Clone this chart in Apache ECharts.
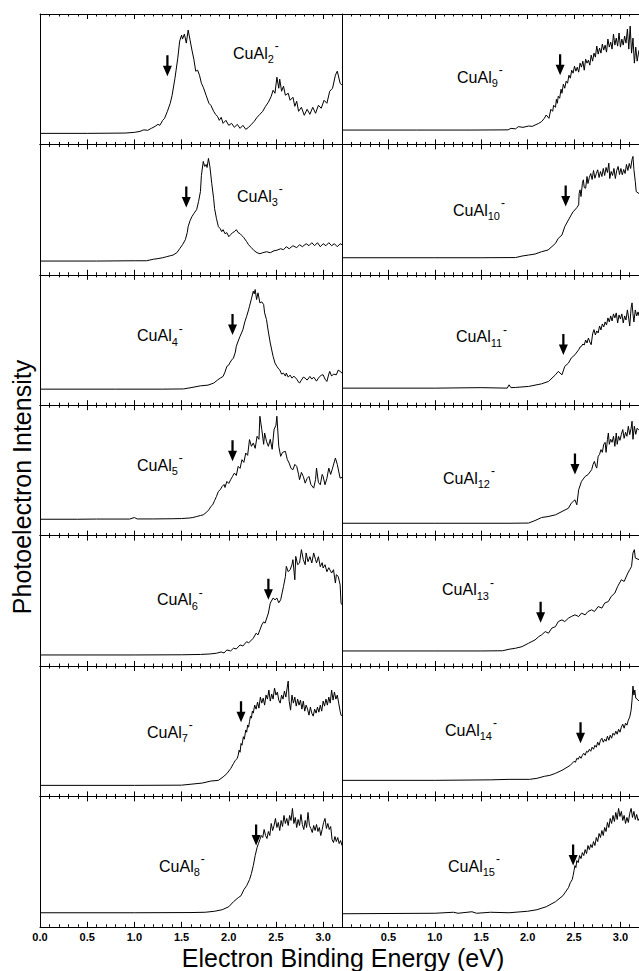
<!DOCTYPE html>
<html><head><meta charset="utf-8">
<script src="https://cdn.jsdelivr.net/npm/echarts@6/dist/echarts.min.js"></script>
<style>html,body{margin:0;padding:0;background:#fff}#c{width:639px;height:971px}</style>
</head><body><div id="c"></div>
<script>
// ---- data: [binding energy (eV), normalized intensity] ----
const cual2 = [[0,0.0],[0.5,0.0],[0.9,0.003],[1.0,0.01],[1.06,0.02],[1.1,0.035],[1.14,0.03],[1.18,0.05],[1.22,0.07],[1.25,0.09],[1.27,0.08],[1.3,0.13],[1.32,0.15],[1.35,0.22],[1.38,0.3],[1.40,0.38],[1.43,0.55],[1.46,0.75],[1.48,0.92],[1.50,0.98],[1.51,0.94],[1.53,0.99],[1.55,0.9],[1.57,1.03],[1.59,0.93],[1.61,0.83],[1.63,0.74],[1.65,0.62],[1.67,0.63],[1.69,0.58],[1.71,0.5],[1.73,0.46],[1.76,0.38],[1.79,0.3],[1.81,0.28],[1.84,0.22],[1.86,0.19],[1.88,0.17],[1.9,0.13],[1.92,0.16],[1.94,0.1],[1.97,0.13],[2.0,0.08],[2.03,0.1],[2.06,0.06],[2.09,0.09],[2.12,0.05],[2.15,0.08],[2.18,0.04],[2.21,0.06],[2.24,0.09],[2.27,0.12],[2.3,0.16],[2.33,0.19],[2.36,0.22],[2.39,0.27],[2.42,0.31],[2.45,0.37],[2.47,0.43],[2.49,0.4],[2.51,0.56],[2.53,0.45],[2.54,0.54],[2.56,0.42],[2.58,0.47],[2.6,0.38],[2.63,0.40],[2.65,0.33],[2.68,0.36],[2.70,0.27],[2.72,0.32],[2.74,0.22],[2.77,0.26],[2.8,0.18],[2.83,0.24],[2.86,0.19],[2.89,0.26],[2.92,0.2],[2.95,0.28],[2.98,0.25],[3.01,0.33],[3.04,0.3],[3.07,0.42],[3.1,0.45],[3.13,0.58],[3.15,0.62],[3.18,0.5],[3.2,0.48]];
const cual3 = [[0,0.027],[0.6,0.027],[1.0,0.03],[1.13,0.03],[1.2,0.045],[1.24,0.05],[1.3,0.06],[1.34,0.07],[1.38,0.08],[1.41,0.087],[1.45,0.11],[1.48,0.15],[1.51,0.19],[1.54,0.24],[1.56,0.31],[1.57,0.37],[1.59,0.43],[1.61,0.47],[1.63,0.5],[1.66,0.54],[1.68,0.62],[1.70,0.72],[1.71,0.88],[1.73,1.02],[1.745,0.97],[1.76,0.99],[1.77,0.96],[1.785,1.05],[1.80,0.97],[1.82,0.8],[1.84,0.65],[1.85,0.55],[1.87,0.45],[1.89,0.37],[1.91,0.35],[1.925,0.32],[1.94,0.34],[1.96,0.3],[1.98,0.31],[2.0,0.27],[2.02,0.29],[2.04,0.31],[2.06,0.32],[2.08,0.34],[2.1,0.31],[2.12,0.3],[2.14,0.28],[2.16,0.26],[2.19,0.22],[2.21,0.19],[2.24,0.16],[2.27,0.13],[2.3,0.11],[2.33,0.1],[2.36,0.11],[2.4,0.12],[2.44,0.11],[2.48,0.13],[2.51,0.135],[2.55,0.15],[2.58,0.14],[2.61,0.17],[2.64,0.15],[2.68,0.18],[2.72,0.16],[2.75,0.19],[2.78,0.17],[2.82,0.2],[2.85,0.18],[2.88,0.21],[2.91,0.18],[2.94,0.21],[2.97,0.17],[3.0,0.2],[3.03,0.18],[3.06,0.21],[3.09,0.18],[3.12,0.2],[3.15,0.17],[3.18,0.2],[3.2,0.19]];
const cual4 = [[0,0.05],[0.8,0.05],[1.3,0.05],[1.52,0.052],[1.6,0.065],[1.7,0.083],[1.78,0.09],[1.84,0.11],[1.88,0.14],[1.91,0.16],[1.94,0.177],[1.96,0.22],[1.98,0.277],[2.0,0.29],[2.01,0.31],[2.03,0.34],[2.05,0.36],[2.07,0.42],[2.08,0.477],[2.1,0.53],[2.12,0.577],[2.14,0.62],[2.15,0.643],[2.17,0.72],[2.19,0.777],[2.21,0.84],[2.22,0.877],[2.24,0.95],[2.26,1.027],[2.27,1.0],[2.28,1.043],[2.295,0.943],[2.31,1.01],[2.33,0.91],[2.35,0.92],[2.37,0.893],[2.38,0.81],[2.40,0.743],[2.42,0.62],[2.44,0.51],[2.46,0.42],[2.47,0.377],[2.49,0.31],[2.51,0.277],[2.53,0.25],[2.54,0.243],[2.56,0.2],[2.58,0.21],[2.6,0.18],[2.61,0.21],[2.63,0.17],[2.65,0.19],[2.67,0.16],[2.69,0.18],[2.72,0.15],[2.74,0.12],[2.75,0.11],[2.77,0.14],[2.79,0.17],[2.81,0.16],[2.83,0.14],[2.86,0.177],[2.88,0.15],[2.9,0.17],[2.93,0.13],[2.95,0.16],[2.98,0.19],[3.0,0.193],[3.02,0.15],[3.04,0.127],[3.06,0.2],[3.07,0.227],[3.09,0.18],[3.11,0.2],[3.14,0.193],[3.16,0.24],[3.18,0.227],[3.2,0.21]];
const cual5 = [[0,0.053],[0.4,0.053],[0.6,0.055],[0.95,0.055],[1.0,0.07],[1.03,0.056],[1.2,0.056],[1.4,0.058],[1.5,0.06],[1.58,0.065],[1.62,0.07],[1.66,0.08],[1.7,0.09],[1.73,0.097],[1.76,0.12],[1.79,0.147],[1.81,0.18],[1.83,0.197],[1.85,0.24],[1.87,0.28],[1.89,0.33],[1.91,0.347],[1.93,0.38],[1.95,0.4],[1.96,0.37],[1.98,0.43],[2.0,0.41],[2.02,0.447],[2.04,0.48],[2.06,0.513],[2.08,0.49],[2.1,0.58],[2.12,0.56],[2.14,0.647],[2.16,0.62],[2.18,0.713],[2.2,0.69],[2.22,0.847],[2.24,0.78],[2.26,0.813],[2.28,0.76],[2.3,0.88],[2.32,0.85],[2.33,1.08],[2.35,0.947],[2.37,0.8],[2.38,0.913],[2.40,0.83],[2.42,0.78],[2.44,0.85],[2.46,0.75],[2.48,0.947],[2.5,0.99],[2.51,1.08],[2.53,0.78],[2.55,0.68],[2.57,0.72],[2.6,0.73],[2.62,0.65],[2.64,0.613],[2.66,0.56],[2.68,0.547],[2.70,0.6],[2.72,0.58],[2.74,0.5],[2.75,0.447],[2.77,0.52],[2.79,0.48],[2.81,0.413],[2.83,0.46],[2.85,0.48],[2.87,0.4],[2.9,0.363],[2.92,0.45],[2.93,0.563],[2.95,0.42],[2.97,0.397],[2.99,0.5],[3.0,0.48],[3.02,0.397],[3.04,0.46],[3.06,0.563],[3.08,0.5],[3.1,0.563],[3.13,0.663],[3.15,0.6],[3.18,0.463],[3.2,0.47]];
const cual6 = [[0,0.0],[1.0,0.0],[1.5,0.002],[1.7,0.005],[1.8,0.01],[1.87,0.017],[1.92,0.03],[1.95,0.02],[1.98,0.05],[2.02,0.04],[2.05,0.067],[2.08,0.06],[2.12,0.1],[2.15,0.09],[2.19,0.133],[2.21,0.12],[2.26,0.167],[2.29,0.217],[2.31,0.2],[2.33,0.25],[2.35,0.3],[2.37,0.33],[2.385,0.317],[2.42,0.417],[2.44,0.517],[2.47,0.567],[2.49,0.55],[2.51,0.567],[2.53,0.52],[2.55,0.55],[2.58,0.683],[2.6,0.78],[2.61,0.883],[2.63,0.83],[2.65,0.85],[2.67,0.9],[2.68,0.95],[2.70,0.75],[2.71,0.983],[2.73,0.9],[2.75,0.917],[2.77,1.05],[2.79,0.95],[2.81,0.9],[2.82,1.017],[2.84,0.93],[2.86,0.98],[2.88,0.917],[2.9,1.017],[2.92,0.95],[2.93,0.917],[2.95,0.98],[2.97,0.88],[2.99,0.92],[3.0,0.867],[3.02,0.9],[3.04,0.83],[3.06,0.87],[3.09,0.817],[3.11,0.85],[3.13,0.717],[3.14,0.8],[3.16,0.783],[3.18,0.7],[3.19,0.517],[3.2,0.5]];
const cual7 = [[0,0.0],[1.0,0.0],[1.5,0.002],[1.72,0.023],[1.81,0.043],[1.89,0.05],[1.94,0.084],[1.98,0.117],[2.02,0.167],[2.05,0.217],[2.07,0.25],[2.09,0.268],[2.10,0.30],[2.11,0.351],[2.12,0.33],[2.13,0.418],[2.14,0.40],[2.155,0.485],[2.165,0.46],[2.18,0.552],[2.19,0.53],[2.2,0.602],[2.21,0.58],[2.22,0.635],[2.23,0.69],[2.24,0.67],[2.25,0.74],[2.26,0.72],[2.275,0.80],[2.29,0.76],[2.305,0.83],[2.32,0.77],[2.335,0.88],[2.35,0.82],[2.365,0.87],[2.38,0.80],[2.395,0.90],[2.41,0.86],[2.425,0.95],[2.44,0.84],[2.455,0.91],[2.47,0.86],[2.485,0.97],[2.50,0.90],[2.515,0.93],[2.53,0.85],[2.545,0.82],[2.56,0.90],[2.575,0.86],[2.59,0.94],[2.605,0.88],[2.62,0.98],[2.63,1.04],[2.64,0.84],[2.655,0.75],[2.67,0.90],[2.685,0.82],[2.70,0.88],[2.715,0.79],[2.73,0.86],[2.745,0.80],[2.76,0.85],[2.775,0.76],[2.79,0.84],[2.805,0.74],[2.82,0.80],[2.835,0.76],[2.85,0.70],[2.865,0.78],[2.88,0.72],[2.895,0.69],[2.91,0.76],[2.925,0.72],[2.94,0.78],[2.955,0.73],[2.97,0.80],[2.985,0.74],[3.0,0.84],[3.015,0.79],[3.03,0.86],[3.045,0.80],[3.06,0.88],[3.075,0.82],[3.09,0.95],[3.105,0.85],[3.12,0.93],[3.135,0.86],[3.15,0.90],[3.165,0.82],[3.18,0.74],[3.19,0.70],[3.2,0.69]];
const cual8 = [[0,0.03],[1.0,0.03],[1.6,0.032],[1.75,0.035],[1.85,0.045],[1.93,0.06],[2.0,0.09],[2.05,0.14],[2.1,0.18],[2.13,0.2],[2.16,0.26],[2.19,0.3],[2.22,0.36],[2.24,0.42],[2.26,0.5],[2.28,0.6],[2.3,0.68],[2.315,0.72],[2.33,0.76],[2.345,0.80],[2.36,0.78],[2.375,0.86],[2.39,0.80],[2.405,0.77],[2.42,0.84],[2.435,0.80],[2.45,0.92],[2.465,0.85],[2.48,0.90],[2.495,0.97],[2.51,0.88],[2.525,0.93],[2.54,0.85],[2.555,0.95],[2.57,0.89],[2.585,1.0],[2.60,0.92],[2.615,0.97],[2.63,0.90],[2.645,1.0],[2.66,0.95],[2.675,1.07],[2.69,0.92],[2.705,0.98],[2.72,0.88],[2.735,0.96],[2.75,0.90],[2.765,1.01],[2.78,0.91],[2.795,0.86],[2.81,0.95],[2.825,0.88],[2.84,1.03],[2.855,0.90],[2.87,0.87],[2.885,0.83],[2.9,0.90],[2.915,0.85],[2.93,0.91],[2.945,0.84],[2.96,0.88],[2.975,0.80],[2.99,0.86],[3.005,0.93],[3.02,0.97],[3.035,0.87],[3.05,0.92],[3.065,0.86],[3.08,0.89],[3.095,0.76],[3.11,0.73],[3.125,0.79],[3.14,0.74],[3.155,0.78],[3.17,0.72],[3.185,0.75],[3.2,0.70]];
const cual9 = [[0,0.033],[0.8,0.033],[1.4,0.033],[1.79,0.035],[1.82,0.05],[1.87,0.045],[1.9,0.067],[1.95,0.06],[2.01,0.073],[2.05,0.07],[2.08,0.083],[2.12,0.1],[2.15,0.117],[2.18,0.15],[2.2,0.183],[2.23,0.15],[2.25,0.24],[2.27,0.22],[2.28,0.28],[2.30,0.26],[2.31,0.34],[2.32,0.30],[2.33,0.37],[2.345,0.35],[2.36,0.44],[2.37,0.40],[2.385,0.49],[2.40,0.45],[2.415,0.52],[2.43,0.50],[2.445,0.58],[2.46,0.55],[2.475,0.63],[2.49,0.60],[2.505,0.67],[2.52,0.62],[2.535,0.66],[2.55,0.61],[2.565,0.70],[2.58,0.66],[2.595,0.72],[2.61,0.63],[2.625,0.74],[2.64,0.70],[2.655,0.73],[2.67,0.68],[2.685,0.78],[2.70,0.72],[2.715,0.80],[2.73,0.76],[2.745,0.87],[2.76,0.79],[2.775,0.85],[2.79,0.80],[2.805,0.89],[2.82,0.83],[2.835,0.88],[2.85,0.81],[2.865,0.94],[2.88,0.86],[2.895,0.91],[2.91,0.84],[2.925,0.99],[2.94,0.88],[2.955,0.95],[2.97,0.87],[2.985,1.00],[3.0,0.86],[3.015,0.94],[3.03,0.88],[3.045,0.97],[3.06,0.90],[3.075,1.04],[3.09,0.84],[3.105,1.07],[3.12,0.80],[3.135,0.95],[3.15,0.70],[3.165,0.86],[3.18,0.72],[3.2,0.83]];
const cual10 = [[0,0.06],[1.0,0.06],[1.5,0.06],[1.87,0.062],[1.94,0.077],[2.01,0.087],[2.08,0.097],[2.15,0.12],[2.22,0.137],[2.3,0.203],[2.33,0.253],[2.37,0.287],[2.4,0.37],[2.44,0.437],[2.47,0.487],[2.49,0.52],[2.51,0.537],[2.53,0.56],[2.55,0.587],[2.555,0.70],[2.565,0.737],[2.575,0.67],[2.59,0.80],[2.60,0.837],[2.61,0.76],[2.625,0.753],[2.64,0.87],[2.65,0.80],[2.665,0.86],[2.68,0.90],[2.695,0.84],[2.71,0.93],[2.725,0.853],[2.74,0.90],[2.755,0.937],[2.77,0.86],[2.785,0.92],[2.80,0.87],[2.815,0.95],[2.83,0.88],[2.845,0.96],[2.86,0.91],[2.875,1.003],[2.885,0.85],[2.90,0.92],[2.915,0.88],[2.93,0.95],[2.945,0.85],[2.96,0.93],[2.975,0.97],[2.99,0.89],[3.005,0.95],[3.02,0.887],[3.035,0.94],[3.05,0.90],[3.065,0.99],[3.08,0.93],[3.095,1.0],[3.11,0.95],[3.125,1.04],[3.135,1.07],[3.145,0.94],[3.16,0.82],[3.17,0.72],[3.2,0.70]];
const cual11 = [[0,0.06],[1.0,0.06],[1.5,0.065],[1.78,0.06],[1.8,0.093],[1.82,0.065],[1.87,0.067],[2.01,0.077],[2.15,0.103],[2.225,0.127],[2.3,0.193],[2.33,0.227],[2.37,0.193],[2.4,0.277],[2.44,0.31],[2.47,0.36],[2.51,0.393],[2.55,0.443],[2.565,0.47],[2.58,0.477],[2.595,0.50],[2.61,0.49],[2.625,0.54],[2.64,0.51],[2.655,0.56],[2.67,0.52],[2.685,0.493],[2.70,0.60],[2.715,0.643],[2.73,0.59],[2.745,0.63],[2.76,0.61],[2.775,0.68],[2.79,0.64],[2.805,0.70],[2.82,0.67],[2.835,0.72],[2.85,0.69],[2.865,0.76],[2.88,0.72],[2.895,0.78],[2.91,0.73],[2.925,0.80],[2.94,0.76],[2.955,0.81],[2.97,0.71],[2.985,0.79],[3.0,0.75],[3.015,0.80],[3.03,0.71],[3.045,0.78],[3.06,0.74],[3.075,0.84],[3.09,0.75],[3.10,0.68],[3.115,0.86],[3.125,0.91],[3.135,0.80],[3.145,0.72],[3.16,0.84],[3.175,0.78],[3.19,0.82],[3.2,0.78]];
const cual12 = [[0,0.013],[1.0,0.013],[1.8,0.013],[2.01,0.015],[2.08,0.04],[2.15,0.07],[2.22,0.08],[2.3,0.097],[2.37,0.13],[2.44,0.163],[2.47,0.213],[2.51,0.247],[2.53,0.197],[2.55,0.347],[2.58,0.43],[2.62,0.48],[2.65,0.497],[2.69,0.547],[2.705,0.60],[2.72,0.63],[2.735,0.58],[2.745,0.563],[2.76,0.68],[2.775,0.70],[2.79,0.747],[2.805,0.72],[2.82,0.80],[2.835,0.82],[2.845,0.72],[2.86,0.85],[2.87,0.913],[2.88,0.80],[2.895,0.85],[2.91,0.82],[2.925,0.88],[2.94,0.78],[2.955,0.913],[2.965,0.80],[2.98,0.88],[2.995,0.84],[3.01,0.90],[3.025,0.947],[3.04,0.86],[3.055,0.92],[3.07,0.88],[3.085,0.98],[3.10,0.897],[3.115,0.96],[3.125,1.03],[3.135,0.85],[3.15,0.98],[3.165,0.90],[3.18,0.96],[3.2,0.94]];
const cual13 = [[0,0.04],[1.0,0.04],[1.5,0.04],[1.73,0.042],[1.8,0.057],[1.87,0.067],[1.94,0.083],[2.01,0.117],[2.08,0.15],[2.12,0.183],[2.15,0.2],[2.19,0.233],[2.225,0.217],[2.26,0.267],[2.3,0.283],[2.33,0.333],[2.37,0.35],[2.4,0.333],[2.44,0.367],[2.47,0.383],[2.51,0.4],[2.55,0.383],[2.58,0.417],[2.62,0.4],[2.65,0.433],[2.69,0.45],[2.72,0.433],[2.76,0.483],[2.8,0.467],[2.83,0.517],[2.87,0.533],[2.9,0.583],[2.94,0.617],[2.97,0.683],[3.01,0.75],[3.04,0.733],[3.08,0.817],[3.1,0.85],[3.12,0.883],[3.135,1.017],[3.15,1.05],[3.16,0.967],[3.2,0.95]];
const cual14 = [[0,0.05],[1.0,0.05],[1.6,0.055],[1.8,0.06],[2.02,0.06],[2.1,0.07],[2.18,0.09],[2.24,0.1],[2.3,0.12],[2.37,0.15],[2.46,0.2],[2.48,0.22],[2.5,0.24],[2.515,0.23],[2.53,0.27],[2.545,0.26],[2.56,0.29],[2.575,0.27],[2.59,0.30],[2.605,0.32],[2.62,0.30],[2.635,0.34],[2.65,0.33],[2.665,0.36],[2.68,0.34],[2.695,0.38],[2.71,0.36],[2.725,0.40],[2.74,0.38],[2.755,0.43],[2.77,0.40],[2.785,0.45],[2.80,0.47],[2.815,0.43],[2.83,0.46],[2.845,0.44],[2.86,0.49],[2.875,0.45],[2.89,0.50],[2.905,0.47],[2.92,0.52],[2.935,0.50],[2.95,0.54],[2.965,0.51],[2.98,0.56],[2.995,0.53],[3.01,0.58],[3.025,0.61],[3.04,0.57],[3.055,0.62],[3.07,0.60],[3.085,0.65],[3.10,0.68],[3.115,0.75],[3.125,0.85],[3.135,0.99],[3.145,0.90],[3.155,0.95],[3.165,0.87],[3.18,0.86],[3.2,0.84]];
const cual15 = [[0,0.02],[1.0,0.025],[1.2,0.035],[1.25,0.025],[1.4,0.04],[1.45,0.025],[1.6,0.035],[1.8,0.03],[2.0,0.045],[2.1,0.06],[2.2,0.09],[2.3,0.14],[2.38,0.2],[2.44,0.28],[2.46,0.33],[2.48,0.36],[2.49,0.40],[2.50,0.45],[2.51,0.50],[2.52,0.48],[2.53,0.55],[2.545,0.53],[2.56,0.60],[2.575,0.57],[2.59,0.63],[2.605,0.60],[2.62,0.66],[2.635,0.62],[2.65,0.70],[2.665,0.66],[2.68,0.71],[2.695,0.68],[2.71,0.74],[2.725,0.70],[2.74,0.78],[2.755,0.74],[2.77,0.82],[2.785,0.78],[2.80,0.85],[2.815,0.80],[2.83,0.88],[2.845,0.84],[2.86,0.93],[2.875,0.88],[2.89,0.97],[2.905,0.92],[2.92,1.0],[2.935,0.94],[2.95,1.03],[2.965,0.96],[2.98,1.07],[2.995,0.99],[3.01,1.04],[3.025,0.95],[3.04,1.0],[3.055,0.92],[3.07,0.98],[3.085,0.93],[3.10,1.02],[3.115,1.07],[3.13,0.98],[3.145,1.04],[3.16,0.96],[3.175,1.01],[3.19,0.95],[3.2,0.97]];

const clusterSizes = [2,3,4,5,6,7,8,9,10,11,12,13,14,15];
const spectra = [cual2,cual3,cual4,cual5,cual6,cual7,cual8,cual9,cual10,cual11,cual12,cual13,cual14,cual15];
// arrow (threshold) markers: [energy, intensity at arrow tip]
const arrowMarks = [[1.35,0.57],[1.55,0.56],[2.04,0.59],[2.04,0.63],[2.42,0.55],[2.13,0.63],[2.29,0.7],
                    [2.35,0.58],[2.41,0.57],[2.385,0.39],[2.51,0.5],[2.14,0.32],[2.57,0.42],[2.49,0.5]];
const tickLabels = ['0.0','0.5','1.0','1.5','2.0','2.5','3.0'];
const xTitle = 'Electron Binding Energy (eV)';
const yTitle = 'Photoelectron Intensity';

// ---- layout ----
const FONT = '"Liberation Sans", Arial, Helvetica, sans-serif';
const ROW_TOP = 14, ROW_H = 130.4;
const COLS = [{left:40, width:302}, {left:342, width:299}];
// label placement (px): [left, centre-y offset from panel top]
const labelPos = [[233,39],[237,52],[137,61],[137,60],[157,64],[147,66],[159,70],
                  [457,63],[453,66],[456,62],[443,73],[442,54],[445,64],[448,70]];
const arrowPath = 'path://M3.0,0 L5.0,0 L5.0,10 L8,10 L4,20 L0,10 L3.0,10 Z';

const grid = [], xAxis = [], yAxis = [], series = [], graphic = [];
spectra.forEach((data, i) => {
  const col = i < 7 ? 0 : 1, row = i % 7;
  grid.push({left: COLS[col].left, width: COLS[col].width, top: ROW_TOP + row*ROW_H, height: ROW_H});
  const base = {gridIndex: i, type: 'value', min: 0, max: 3.2, splitLine: {show: false}};
  const lineSt = {color: '#000', width: 1};
  xAxis.push(Object.assign({}, base, {position: 'bottom', interval: 0.5,
    axisLine: {show: true, onZero: false, lineStyle: lineSt},
    axisTick: {show: true, inside: true, length: 5, lineStyle: lineSt},
    axisLabel: {show: row === 6, color: '#000', fontSize: 11, fontWeight: 'bold', fontFamily: FONT, margin: 5,
      showMaxLabel: false, showMinLabel: col === 0,
      formatter: v => tickLabels[Math.round(v/0.5)] || ''}}));
  xAxis.push(Object.assign({}, base, {position: 'bottom', interval: 0.1,
    axisLine: {show: false, onZero: false}, axisLabel: {show: false},
    axisTick: {show: true, inside: true, length: 2.5, lineStyle: lineSt}}));
  xAxis.push(Object.assign({}, base, {position: 'top', interval: 0.5,
    axisLine: {show: true, onZero: false, lineStyle: lineSt}, axisLabel: {show: false},
    axisTick: {show: true, inside: true, length: 5, lineStyle: lineSt}}));
  xAxis.push(Object.assign({}, base, {position: 'top', interval: 0.1,
    axisLine: {show: false, onZero: false}, axisLabel: {show: false},
    axisTick: {show: true, inside: true, length: 2.5, lineStyle: lineSt}}));
  yAxis.push({gridIndex: i, type: 'value', min: -0.11, max: 1.19, position: 'left',
    axisLine: {show: true, onZero: false, lineStyle: lineSt}, axisTick: {show: false},
    axisLabel: {show: false}, splitLine: {show: false}});
  series.push({type: 'line', name: 'CuAl' + clusterSizes[i] + '-', xAxisIndex: 4*i, yAxisIndex: i,
    data: data, showSymbol: false, symbol: 'none', smooth: false, silent: true,
    lineStyle: {color: '#000', width: 1},
    markPoint: {symbol: arrowPath, symbolSize: [9, 21], symbolOffset: [0, -10.5], silent: true,
      itemStyle: {color: '#000'}, label: {show: false},
      data: [{coord: arrowMarks[i]}]}});
  graphic.push({type: 'text', x: labelPos[i][0], y: ROW_TOP + row*ROW_H + labelPos[i][1], silent: true,
    style: {text: '{m|CuAl}{s|' + clusterSizes[i] + '}{p|-}', align: 'left', verticalAlign: 'middle',
      rich: {m: {fontSize: 16, fontFamily: FONT, fill: '#000'},
             s: {fontSize: 11, fontFamily: FONT, fill: '#000', padding: [12,0,0,0]},
             p: {fontSize: 12, fontFamily: FONT, fill: '#000', padding: [0,0,14,1]}}}});
});
graphic.push({type: 'text', x: 343, y: 958, silent: true,
  style: {text: xTitle, font: '25px ' + FONT, fill: '#000', align: 'center', verticalAlign: 'middle'}});
graphic.push({type: 'text', x: 22, y: 487, rotation: Math.PI/2, silent: true,
  style: {text: yTitle, font: '25px ' + FONT, fill: '#000', align: 'center', verticalAlign: 'middle'}});

const chart = echarts.init(document.getElementById('c'), null, {renderer: 'svg'});
chart.setOption({animation: false, backgroundColor: '#fff', grid, xAxis, yAxis, series, graphic});
</script></body></html>
